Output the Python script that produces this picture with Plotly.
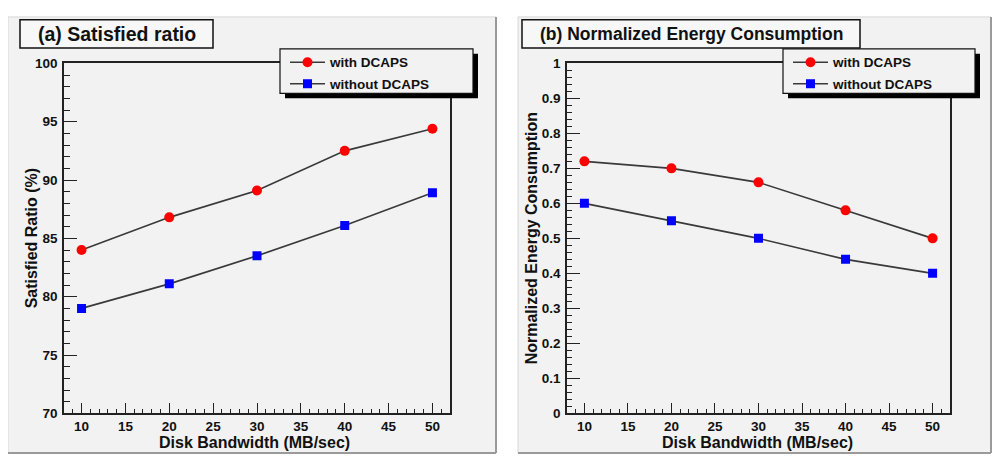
import plotly.graph_objects as go

# ---------------- data ----------------
bandwidth = [10, 20, 30, 40, 50]
ratio_with = [84.0, 86.8, 89.1, 92.5, 94.4]
ratio_without = [79.0, 81.1, 83.5, 86.1, 88.9]
energy_with = [0.72, 0.70, 0.66, 0.58, 0.50]
energy_without = [0.60, 0.55, 0.50, 0.44, 0.40]
series_names = ["with DCAPS", "without DCAPS"]
panel_titles = ["(a) Satisfied ratio", "(b) Normalized Energy Consumption"]
y_titles = ["Satisfied Ratio (%)", "Normalized Energy Consumption"]
x_title = "Disk Bandwidth (MB/sec)"
x_ticks = [10, 15, 20, 25, 30, 35, 40, 45, 50]
energy_ticks = [0, 0.1, 0.2, 0.3, 0.4, 0.5, 0.6, 0.7, 0.8, 0.9, 1]
energy_ticktext = ["0", "0.1", "0.2", "0.3", "0.4", "0.5", "0.6", "0.7", "0.8", "0.9", "1"]

# page body keeps its default 8px margin, so the figure is sized to fill 1000x470 exactly
OFF = 8
W, H = 1000 - 2 * OFF, 470 - 2 * OFF
FONT = "Liberation Sans, Arial, Helvetica, sans-serif"
BG = "#f2f2f2"
LINE = "#3a3a3a"


def px(x):
    return (x - OFF) / W


def py(y):
    return 1 - (y - OFF) / H


fig = go.Figure()

marker_styles = [dict(symbol="circle", color="#ff0000", size=10),
                 dict(symbol="square", color="#0000ff", size=9)]

for (ys, name, ms) in zip([ratio_with, ratio_without], series_names, marker_styles):
    fig.add_trace(go.Scatter(x=bandwidth, y=ys, name=name, mode="lines+markers",
                             line=dict(color=LINE, width=1.6),
                             marker=dict(symbol=ms["symbol"], color=ms["color"], size=ms["size"],
                                         line=dict(width=0)),
                             xaxis="x", yaxis="y", legend="legend", legendgroup=name + "a"))
for (ys, name, ms) in zip([energy_with, energy_without], series_names, marker_styles):
    fig.add_trace(go.Scatter(x=bandwidth, y=ys, name=name, mode="lines+markers",
                             line=dict(color=LINE, width=1.6),
                             marker=dict(symbol=ms["symbol"], color=ms["color"], size=ms["size"],
                                         line=dict(width=0)),
                             xaxis="x2", yaxis="y2", legend="legend2", legendgroup=name + "b"))

tickfont = dict(family=FONT, size=13.5, color="#111", weight="bold")

xax = dict(range=[8, 52], tickvals=x_ticks,
           ticks="inside", ticklen=11, tickwidth=1.2, tickcolor="#222",
           minor=dict(dtick=1, ticks="inside", ticklen=5, tickwidth=1, tickcolor="#222", showgrid=False),
           showline=True, linecolor="#222", linewidth=1.5, mirror=True, ticklabelstandoff=0,
           showgrid=False, zeroline=False, tickfont=tickfont, fixedrange=True)

legend_font = dict(family=FONT, size=13.5, color="#111", weight="bold")

fig.update_layout(
    width=W, height=H,
    margin=dict(l=0, r=0, t=0, b=0),
    paper_bgcolor="white", plot_bgcolor=BG,
    xaxis=dict(xax, domain=[px(64), px(450)], anchor="y"),
    yaxis=dict(range=[70, 100], dtick=5, domain=[py(420), py(58)], anchor="x",
               ticks="inside", ticklen=13, tickwidth=1.2, tickcolor="#222",
               minor=dict(dtick=1, ticks="inside", ticklen=6, tickwidth=1, tickcolor="#222", showgrid=False),
               showline=True, linecolor="#222", linewidth=1.5, mirror=True, ticklabelstandoff=2,
               showgrid=False, zeroline=False, tickfont=tickfont, fixedrange=True),
    xaxis2=dict(xax, domain=[px(567), px(950)], anchor="y2"),
    yaxis2=dict(range=[0, 1], domain=[py(420), py(58)], anchor="x2",
                tickvals=energy_ticks, ticktext=energy_ticktext,
                ticks="inside", ticklen=13, tickwidth=1.2, tickcolor="#222",
                minor=dict(dtick=0.02, ticks="inside", ticklen=5, tickwidth=1, tickcolor="#222", showgrid=False),
                showline=True, linecolor="#222", linewidth=1.5, mirror=True, ticklabelstandoff=2,
                showgrid=False, zeroline=False, tickfont=tickfont, fixedrange=True),
    showlegend=True,
    legend=dict(x=px(285), y=py(41), xanchor="left", yanchor="top",
                bgcolor="rgba(0,0,0,0)", borderwidth=0, font=legend_font,
                itemwidth=35, tracegroupgap=1),
    legend2=dict(x=px(788), y=py(41), xanchor="left", yanchor="top",
                 bgcolor="rgba(0,0,0,0)", borderwidth=0, font=legend_font,
                 itemwidth=35, tracegroupgap=1),
)

shapes = []
annotations = []

# panel backgrounds with bevelled edges
for (x0, x1) in [(8, 496), (518, 991)]:
    shapes.append(dict(type="rect", xref="paper", yref="paper", layer="below",
                       x0=px(x0), x1=px(x1), y0=py(461), y1=py(10),
                       fillcolor=BG, line=dict(color="#d8d8d8", width=1)))
    shapes.append(dict(type="line", xref="paper", yref="paper", layer="below",
                       x0=px(x1), x1=px(x1), y0=py(461), y1=py(10),
                       line=dict(color="#9a9a9a", width=2)))
    shapes.append(dict(type="line", xref="paper", yref="paper", layer="below",
                       x0=px(x0), x1=px(x1), y0=py(461), y1=py(461),
                       line=dict(color="#9a9a9a", width=2)))

# title boxes
for (x0, x1, title, fs) in [(20, 213, panel_titles[0], 19.5), (522, 860, panel_titles[1], 17.5)]:
    shapes.append(dict(type="rect", xref="paper", yref="paper",
                       x0=px(x0), x1=px(x1), y0=py(42), y1=py(13),
                       fillcolor="#f7f7f7", line=dict(color="#111", width=1.5)))
    annotations.append(dict(x=px((x0 + x1) / 2), y=py(27.5), xref="paper", yref="paper",
                            text=title, showarrow=False, xanchor="center", yanchor="middle",
                            font=dict(family=FONT, size=fs, color="#111", weight="bold")))

# legend boxes with shadow
for (x0, x1) in [(280, 473), (783, 975)]:
    shapes.append(dict(type="rect", xref="paper", yref="paper",
                       x0=px(x0 + 5), x1=px(x1 + 5), y0=py(94), y1=py(48),
                       fillcolor="#000", line=dict(width=0)))
    shapes.append(dict(type="rect", xref="paper", yref="paper",
                       x0=px(x0), x1=px(x1), y0=py(89), y1=py(43),
                       fillcolor=BG, line=dict(color="#111", width=1.2)))

# axis titles
for (xc, yt) in [(31, y_titles[0]), (531, y_titles[1])]:
    annotations.append(dict(x=px(xc), y=py(239), xref="paper", yref="paper",
                            text=yt, showarrow=False, textangle=-90,
                            xanchor="center", yanchor="middle",
                            font=dict(family=FONT, size=16, color="#111", weight="bold")))
for xc in [254, 757]:
    annotations.append(dict(x=px(xc), y=py(450), xref="paper", yref="paper",
                            text=x_title, showarrow=False,
                            xanchor="center", yanchor="middle",
                            font=dict(family=FONT, size=16, color="#111", weight="bold")))

fig.update_layout(shapes=shapes, annotations=annotations)

fig.write_html("out.html", config={"displayModeBar": False})
